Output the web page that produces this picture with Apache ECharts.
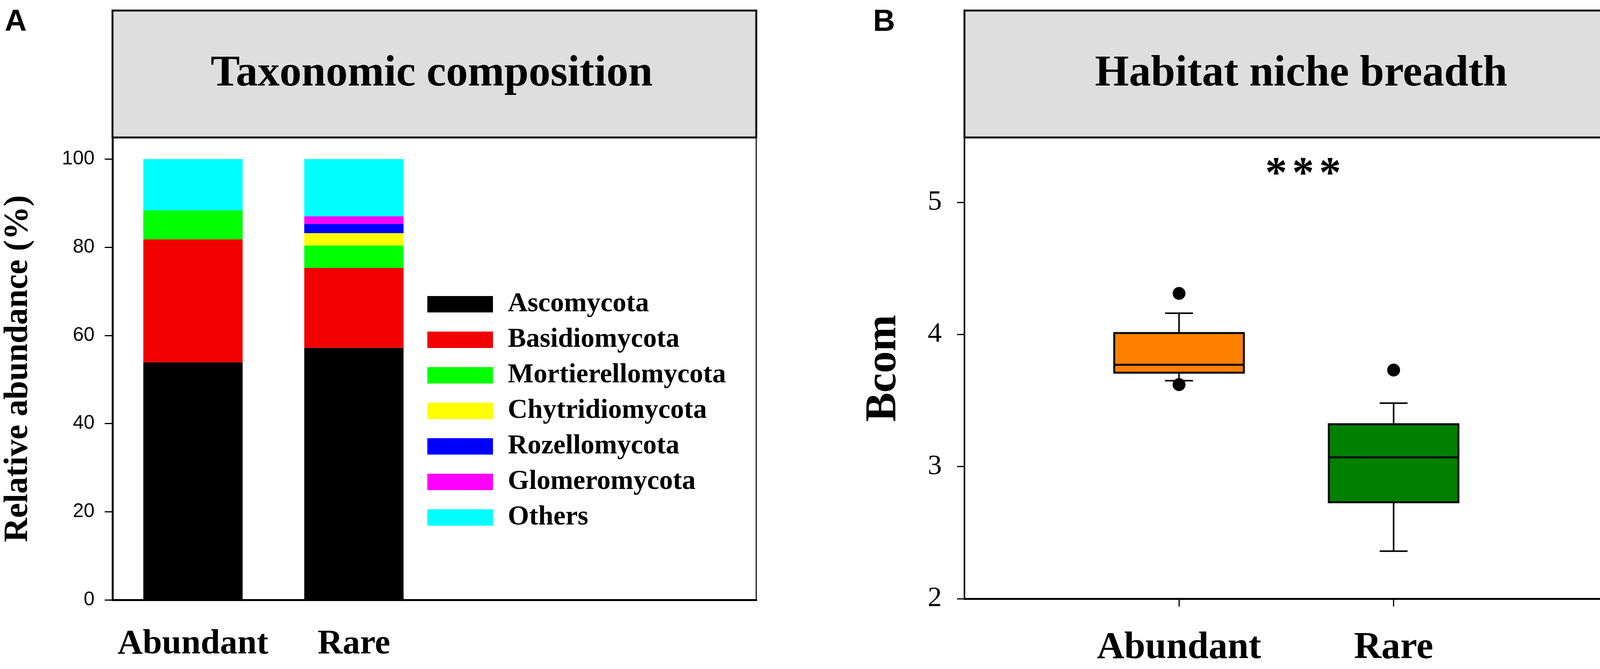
<!DOCTYPE html>
<html><head><meta charset="utf-8">
<script src="https://cdn.jsdelivr.net/npm/echarts@6/dist/echarts.min.js"></script>
<style>html,body{margin:0;padding:0;background:#fff}#c{width:4130px;height:1713px}</style>
</head><body><div id="c"></div>
<script>
// ---- Panel A data ----
const groupsA = ['Abundant', 'Rare'];
const phyla = ['Ascomycota', 'Basidiomycota', 'Mortierellomycota', 'Chytridiomycota', 'Rozellomycota', 'Glomeromycota', 'Others'];
const ascomycota = [53.9, 57.2];
const basidiomycota = [27.9, 18.1];
const mortierellomycota = [6.6, 5.1];
const chytridiomycota = [0, 2.8];
const rozellomycota = [0, 2.1];
const glomeromycota = [0, 1.7];
const others = [11.6, 13.0];
const phylumColors = ['#000000', '#f00000', '#00ff00', '#ffff00', '#0000ff', '#ff00ff', '#00ffff'];
const abundanceTicks = [0, 20, 40, 60, 80, 100];

// ---- Panel B data ----
const groupsB = ['Abundant', 'Rare'];
// [lower whisker, Q1, median, Q3, upper whisker]
const bcomAbundant = [3.65, 3.71, 3.77, 4.01, 4.16];
const bcomRare = [2.36, 2.73, 3.07, 3.32, 3.48];
const bcomOutliers = [['Abundant', 4.31], ['Abundant', 3.62], ['Rare', 3.73]];
const boxColors = ['#ff8000', '#008000'];
const bcomTicks = [2, 3, 4, 5];
const significance = '*';

const SERIF = '"Liberation Serif", "Times New Roman", serif';
const SANS = '"Liberation Sans", Arial, sans-serif';

const phylumValues = [ascomycota, basidiomycota, mortierellomycota, chytridiomycota, rozellomycota, glomeromycota, others];
const catA = groupsA.concat([' ', '  ']);
const catB = [' '].concat(groupsB, ['  ']);
const boxes = [bcomAbundant, bcomRare];

const barSeries = phyla.map((name, i) => ({
  name: name,
  type: 'bar',
  stack: 'total',
  xAxisIndex: 0, yAxisIndex: 0,
  barWidth: '61.7%',
  itemStyle: { color: phylumColors[i] },
  data: phylumValues[i]
}));

const chart = echarts.init(document.getElementById('c'), null, { renderer: 'canvas' });

const starTexts = [3267, 3336, 3405].map(x => ({
  type: 'text', x: x, y: 450, z: 11,
  style: { text: significance, font: 'bold 112px ' + SERIF, fill: '#000', align: 'center', verticalAlign: 'middle' }
}));

const option = {
  animation: false,
  backgroundColor: '#ffffff',
  grid: [
    { left: 288, top: 352, width: 1648, height: 1184, show: true, borderColor: '#111', borderWidth: 3, backgroundColor: 'transparent', containLabel: false, outerBoundsMode: 'none' },
    { left: 2469, top: 352, width: 1648, height: 1181, show: true, borderColor: '#111', borderWidth: 3, backgroundColor: 'transparent', containLabel: false, outerBoundsMode: 'none' }
  ],
  legend: {
    data: phyla,
    orient: 'vertical',
    left: 1094, top: 744,
    padding: 0,
    icon: 'rect',
    itemWidth: 168, itemHeight: 42, itemGap: 21,
    selectedMode: false,
    textStyle: { fontFamily: SERIF, fontWeight: 'bold', fontSize: 70, color: '#000', lineHeight: 70, padding: [0, 0, 0, 33] }
  },
  xAxis: [
    {
      type: 'category', gridIndex: 0, data: catA, boundaryGap: true,
      axisLine: { lineStyle: { color: '#000', width: 5 } },
      axisTick: { alignWithLabel: true, length: 20, interval: (idx) => idx < groupsA.length, lineStyle: { color: '#000', width: 3 } },
      axisLabel: { interval: 0, margin: 70, fontFamily: SERIF, fontWeight: 'bold', fontSize: 89, color: '#000' },
      splitLine: { show: false }
    },
    {
      type: 'category', gridIndex: 1, data: catB, boundaryGap: false,
      axisLine: { lineStyle: { color: '#000', width: 5 } },
      axisTick: { length: 20, interval: (idx) => idx >= 1 && idx <= groupsB.length, lineStyle: { color: '#000', width: 3 } },
      axisLabel: { interval: 0, margin: 78, fontFamily: SERIF, fontWeight: 'bold', fontSize: 97, color: '#000' },
      splitLine: { show: false }
    }
  ],
  yAxis: [
    {
      type: 'value', gridIndex: 0, min: 0, max: 104.9,
      axisLine: { show: true, lineStyle: { color: '#000', width: 5 } },
      axisTick: { show: true, length: 20, customValues: abundanceTicks, lineStyle: { color: '#000', width: 3 } },
      axisLabel: { customValues: abundanceTicks, margin: 46, fontFamily: SANS, fontSize: 50, color: '#000' },
      splitLine: { show: false }
    },
    {
      type: 'value', gridIndex: 1, min: 2, max: 5.49,
      axisLine: { show: true, lineStyle: { color: '#000', width: 4 } },
      axisTick: { show: true, length: 19, customValues: bcomTicks, lineStyle: { color: '#000', width: 3 } },
      axisLabel: { customValues: bcomTicks, margin: 58, fontFamily: SERIF, fontSize: 72, color: '#000' },
      splitLine: { show: false }
    }
  ],
  series: barSeries.concat([
    {
      name: 'Bcom box',
      type: 'custom',
      xAxisIndex: 1, yAxisIndex: 1,
      encode: { x: 0, y: [1, 2, 3, 4, 5] },
      data: groupsB.map((g, i) => [g].concat(boxes[i])),
      renderItem: function (params, api) {
        const xi = api.value(0);
        const lo = api.value(1), q1 = api.value(2), med = api.value(3), q3 = api.value(4), hi = api.value(5);
        const band = api.size([1, 0])[0];
        const bw = band * 0.604, cw = band * 0.13;
        const pLo = api.coord([xi, lo]);
        const pQ1 = api.coord([xi, q1]);
        const pMed = api.coord([xi, med]);
        const pQ3 = api.coord([xi, q3]);
        const pHi = api.coord([xi, hi]);
        const cx = pMed[0];
        const ls = { stroke: '#000', lineWidth: 4 };
        return {
          type: 'group',
          children: [
            { type: 'line', shape: { x1: cx, y1: pQ1[1], x2: cx, y2: pLo[1] }, style: ls },
            { type: 'line', shape: { x1: cx - cw / 2, y1: pLo[1], x2: cx + cw / 2, y2: pLo[1] }, style: ls },
            { type: 'line', shape: { x1: cx, y1: pQ3[1], x2: cx, y2: pHi[1] }, style: ls },
            { type: 'line', shape: { x1: cx - cw / 2, y1: pHi[1], x2: cx + cw / 2, y2: pHi[1] }, style: ls },
            { type: 'rect', shape: { x: cx - bw / 2, y: pQ3[1], width: bw, height: pQ1[1] - pQ3[1] },
              style: { fill: boxColors[params.dataIndex], stroke: '#000', lineWidth: 5 } },
            { type: 'line', shape: { x1: cx - bw / 2, y1: pMed[1], x2: cx + bw / 2, y2: pMed[1] }, style: { stroke: '#000', lineWidth: 5 } }
          ]
        };
      },
      z: 3
    },
    {
      name: 'Outliers',
      type: 'scatter',
      xAxisIndex: 1, yAxisIndex: 1,
      symbol: 'circle', symbolSize: 33,
      itemStyle: { color: '#000', opacity: 1 },
      data: bcomOutliers,
      z: 5
    }
  ]),
  graphic: [
    { type: 'rect', shape: { x: 288, y: 27, width: 1648, height: 325 }, style: { fill: '#dedede', stroke: '#111', lineWidth: 5 }, z: 10 },
    { type: 'rect', shape: { x: 2469, y: 27, width: 1648, height: 325 }, style: { fill: '#dedede', stroke: '#111', lineWidth: 5 }, z: 10 },
    { type: 'text', x: 1105, y: 190, z: 11, style: { text: 'Taxonomic composition', font: 'bold 112px ' + SERIF, fill: '#000', align: 'center', verticalAlign: 'middle' } },
    { type: 'text', x: 3331, y: 190, z: 11, style: { text: 'Habitat niche breadth', font: 'bold 112px ' + SERIF, fill: '#000', align: 'center', verticalAlign: 'middle' } },
    { type: 'text', x: 12, y: 57, z: 11, style: { text: 'A', font: 'bold 78px ' + SANS, fill: '#000', align: 'left', verticalAlign: 'middle' } },
    { type: 'text', x: 2235, y: 57, z: 11, style: { text: 'B', font: 'bold 78px ' + SANS, fill: '#000', align: 'left', verticalAlign: 'middle' } },
    { type: 'text', x: 47, y: 944, rotation: Math.PI / 2, z: 11, style: { text: 'Relative abundance (%)', font: 'bold 86px ' + SERIF, fill: '#000', align: 'center', verticalAlign: 'middle' } },
    { type: 'text', x: 2263, y: 943, rotation: Math.PI / 2, z: 11, style: { text: 'Bcom', font: 'bold 112px ' + SERIF, fill: '#000', align: 'center', verticalAlign: 'middle' } }
  ].concat(starTexts)
};
chart.setOption(option);
</script>
</body></html>
